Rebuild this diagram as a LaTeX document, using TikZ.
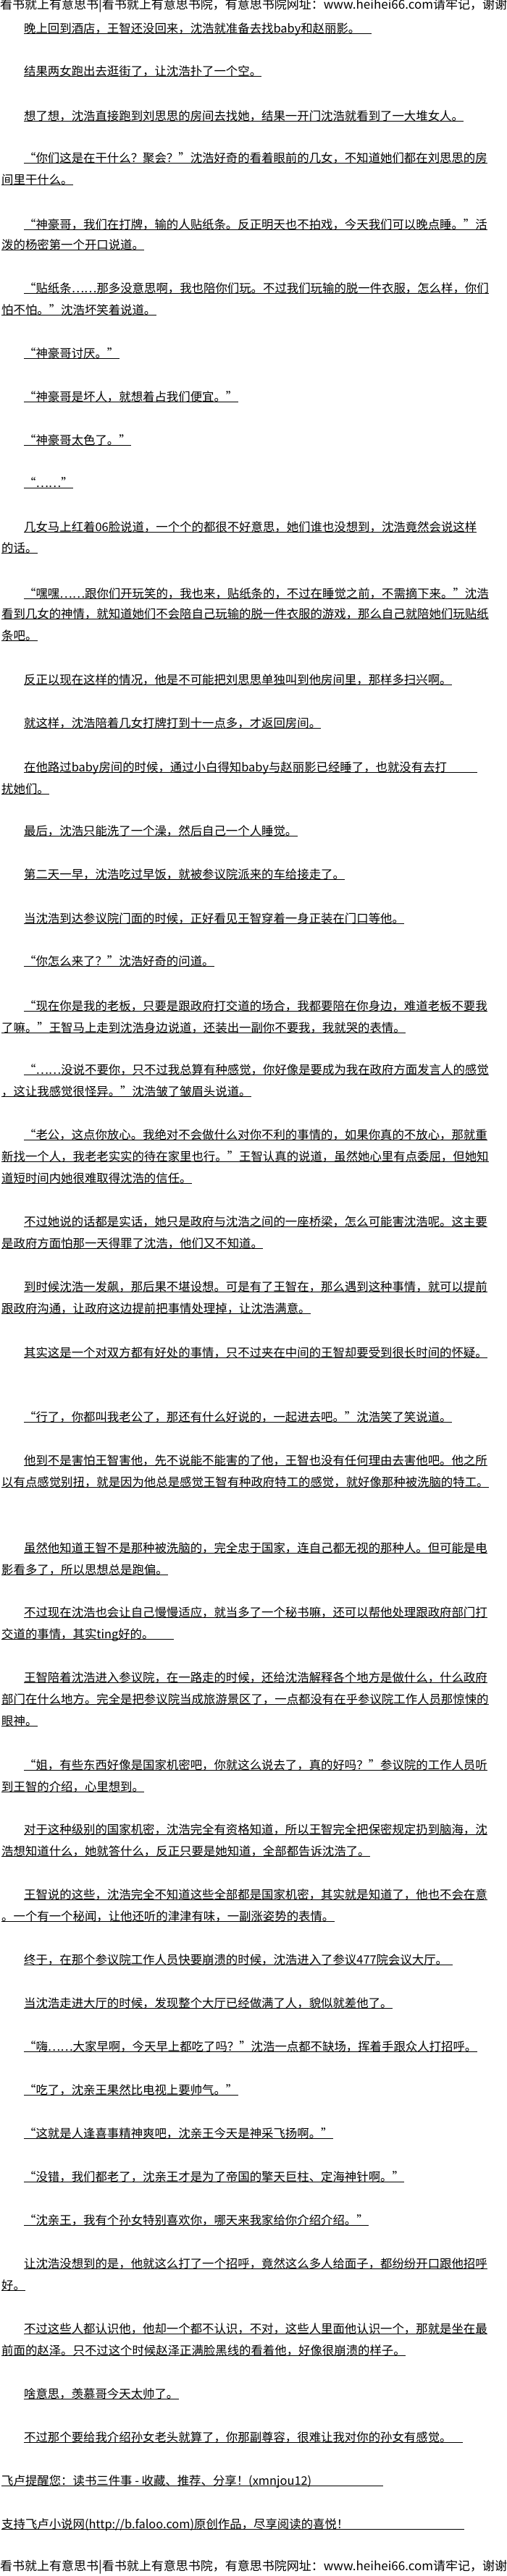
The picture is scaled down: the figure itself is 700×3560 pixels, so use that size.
\documentclass[tikz,border=0pt]{standalone}
\usepackage{fontspec}
\setmainfont{Noto Sans CJK SC}
\tikzset{
	x=1pt, y=-1pt, % one unit is one pixel of the page, y counts down from the top edge
	uline/.style={draw=black, line width=0.8pt}, % the rule under every printed line
	ln/.style={anchor=west, inner sep=0pt, font=\fontsize{16.4pt}{16.4pt}\selectfont,
		text height=13pt, text depth=1pt,
		append after command={([yshift=-7pt]\tikzlastnode.west) edge[uline] ([yshift=-7pt]\tikzlastnode.east)}}, % one line of the text
	head/.style={anchor=west, inner sep=0pt, font=\fontsize{17pt}{17pt}\selectfont}, % site banner, top and bottom
}
\begin{document}
\begin{tikzpicture}
	\fill[white] (0,0) rectangle (700,3560);
	\useasboundingbox (0,0) rectangle (700,3560);
	\node[head] (hd1) at (0,8) {看书就上有意思书|看书就上有意思书院，有意思书院网址：www.heihei66.com请牢记，谢谢};
	\node[ln] (l1) at (33,39) {\makebox[480pt][l]{晚上回到酒店，王智还没回来，沈浩就准备去找baby和赵丽影。}};
	\node[ln] (l2) at (33,98) {结果两女跑出去逛街了，让沈浩扑了一个空。};
	\node[ln] (l3) at (33,160) {想了想，沈浩直接跑到刘思思的房间去找她，结果一开门沈浩就看到了一大堆女人。};
	\node[ln] (l4) at (33,218) {“你们这是在干什么？聚会？”沈浩好奇的看着眼前的几女，不知道她们都在刘思思的房};
	\node[ln] (l5) at (2,248) {间里干什么。};
	\node[ln] (l6) at (33,310) {“神豪哥，我们在打牌，输的人贴纸条。反正明天也不拍戏，今天我们可以晚点睡。”活};
	\node[ln] (l7) at (2,338) {泼的杨密第一个开口说道。};
	\node[ln] (l8) at (33,398) {“贴纸条……那多没意思啊，我也陪你们玩。不过我们玩输的脱一件衣服，怎么样，你们};
	\node[ln] (l9) at (2,428) {怕不怕。”沈浩坏笑着说道。};
	\node[ln] (l10) at (33,488) {“神豪哥讨厌。”};
	\node[ln] (l11) at (33,548) {“神豪哥是坏人，就想着占我们便宜。”};
	\node[ln] (l12) at (33,608) {“神豪哥太色了。”};
	\node[ln] (l13) at (33,667) {“……”};
	\node[ln] (l14) at (33,728) {几女马上红着06脸说道，一个个的都很不好意思，她们谁也没想到，沈浩竟然会说这样};
	\node[ln] (l15) at (2,757) {的话。};
	\node[ln] (l16) at (33,820) {“嘿嘿……跟你们开玩笑的，我也来，贴纸条的，不过在睡觉之前，不需摘下来。”沈浩};
	\node[ln] (l17) at (2,848) {看到几女的神情，就知道她们不会陪自己玩输的脱一件衣服的游戏，那么自己就陪她们玩贴纸};
	\node[ln] (l18) at (2,878) {条吧。};
	\node[ln] (l19) at (33,939) {反正以现在这样的情况，他是不可能把刘思思单独叫到他房间里，那样多扫兴啊。};
	\node[ln] (l20) at (33,999) {就这样，沈浩陪着几女打牌打到十一点多，才返回房间。};
	\node[ln] (l21) at (33,1060) {\makebox[626pt][l]{在他路过baby房间的时候，通过小白得知baby与赵丽影已经睡了，也就没有去打}};
	\node[ln] (l22) at (2,1090) {扰她们。};
	\node[ln] (l23) at (33,1148) {最后，沈浩只能洗了一个澡，然后自己一个人睡觉。};
	\node[ln] (l24) at (33,1208) {第二天一早，沈浩吃过早饭，就被参议院派来的车给接走了。};
	\node[ln] (l25) at (33,1269) {当沈浩到达参议院门面的时候，正好看见王智穿着一身正装在门口等他。};
	\node[ln] (l26) at (33,1328) {“你怎么来了？”沈浩好奇的问道。};
	\node[ln] (l27) at (33,1390) {“现在你是我的老板，只要是跟政府打交道的场合，我都要陪在你身边，难道老板不要我};
	\node[ln] (l28) at (2,1420) {了嘛。”王智马上走到沈浩身边说道，还装出一副你不要我，我就哭的表情。};
	\node[ln] (l29) at (33,1478) {“……没说不要你，只不过我总算有种感觉，你好像是要成为我在政府方面发言人的感觉};
	\node[ln] (l30) at (2,1508) {，这让我感觉很怪异。”沈浩皱了皱眉头说道。};
	\node[ln] (l31) at (33,1568) {“老公，这点你放心。我绝对不会做什么对你不利的事情的，如果你真的不放心，那就重};
	\node[ln] (l32) at (2,1598) {新找一个人，我老老实实的待在家里也行。”王智认真的说道，虽然她心里有点委屈，但她知};
	\node[ln] (l33) at (2,1628) {道短时间内她很难取得沈浩的信任。};
	\node[ln] (l34) at (33,1688) {不过她说的话都是实话，她只是政府与沈浩之间的一座桥梁，怎么可能害沈浩呢。这主要};
	\node[ln] (l35) at (2,1718) {是政府方面怕那一天得罪了沈浩，他们又不知道。};
	\node[ln] (l36) at (33,1778) {到时候沈浩一发飙，那后果不堪设想。可是有了王智在，那么遇到这种事情，就可以提前};
	\node[ln] (l37) at (2,1808) {跟政府沟通，让政府这边提前把事情处理掉，让沈浩满意。};
	\node[ln] (l38) at (33,1869) {其实这是一个对双方都有好处的事情，只不过夹在中间的王智却要受到很长时间的怀疑。};
	\node[ln] (l39) at (33,1958) {“行了，你都叫我老公了，那还有什么好说的，一起进去吧。”沈浩笑了笑说道。};
	\node[ln] (l40) at (33,2018) {他到不是害怕王智害他，先不说能不能害的了他，王智也没有任何理由去害他吧。他之所};
	\node[ln] (l41) at (2,2048) {以有点感觉别扭，就是因为他总是感觉王智有种政府特工的感觉，就好像那种被洗脑的特工。};
	\node[ln] (l42) at (33,2139) {虽然他知道王智不是那种被洗脑的，完全忠于国家，连自己都无视的那种人。但可能是电};
	\node[ln] (l43) at (2,2169) {影看多了，所以思想总是跑偏。};
	\node[ln] (l44) at (33,2228) {不过现在沈浩也会让自己慢慢适应，就当多了一个秘书嘛，还可以帮他处理跟政府部门打};
	\node[ln] (l45) at (2,2258) {\makebox[238pt][l]{交道的事情，其实ting好的。}};
	\node[ln] (l46) at (33,2318) {王智陪着沈浩进入参议院，在一路走的时候，还给沈浩解释各个地方是做什么，什么政府};
	\node[ln] (l47) at (2,2348) {部门在什么地方。完全是把参议院当成旅游景区了，一点都没有在乎参议院工作人员那惊悚的};
	\node[ln] (l48) at (2,2378) {眼神。};
	\node[ln] (l49) at (33,2439) {“姐，有些东西好像是国家机密吧，你就这么说去了，真的好吗？”参议院的工作人员听};
	\node[ln] (l50) at (2,2469) {到王智的介绍，心里想到。};
	\node[ln] (l51) at (33,2528) {对于这种级别的国家机密，沈浩完全有资格知道，所以王智完全把保密规定扔到脑海，沈};
	\node[ln] (l52) at (2,2558) {浩想知道什么，她就答什么，反正只要是她知道，全部都告诉沈浩了。};
	\node[ln] (l53) at (33,2618) {王智说的这些，沈浩完全不知道这些全部都是国家机密，其实就是知道了，他也不会在意};
	\node[ln] (l54) at (2,2648) {。一个有一个秘闻，让他还听的津津有味，一副涨姿势的表情。};
	\node[ln] (l55) at (33,2708) {\makebox[592pt][l]{终于，在那个参议院工作人员快要崩溃的时候，沈浩进入了参议477院会议大厅。}};
	\node[ln] (l56) at (33,2768) {当沈浩走进大厅的时候，发现整个大厅已经做满了人，貌似就差他了。};
	\node[ln] (l57) at (33,2828) {“嗨……大家早啊，今天早上都吃了吗？”沈浩一点都不缺场，挥着手跟众人打招呼。};
	\node[ln] (l58) at (33,2888) {“吃了，沈亲王果然比电视上要帅气。”};
	\node[ln] (l59) at (33,2948) {“这就是人逢喜事精神爽吧，沈亲王今天是神采飞扬啊。”};
	\node[ln] (l60) at (33,3008) {“没错，我们都老了，沈亲王才是为了帝国的擎天巨柱、定海神针啊。”};
	\node[ln] (l61) at (33,3068) {“沈亲王，我有个孙女特别喜欢你，哪天来我家给你介绍介绍。”};
	\node[ln] (l62) at (33,3128) {让沈浩没想到的是，他就这么打了一个招呼，竟然这么多人给面子，都纷纷开口跟他招呼};
	\node[ln] (l63) at (2,3158) {好。};
	\node[ln] (l64) at (33,3218) {不过这些人都认识他，他却一个都不认识，不对，这些人里面他认识一个，那就是坐在最};
	\node[ln] (l65) at (2,3248) {前面的赵泽。只不过这个时候赵泽正满脸黑线的看着他，好像很崩溃的样子。};
	\node[ln] (l66) at (33,3308) {啥意思，羡慕哥今天太帅了。};
	\node[ln] (l67) at (33,3368) {\makebox[606pt][l]{不过那个要给我介绍孙女老头就算了，你那副尊容，很难让我对你的孙女有感觉。}};
	\node[ln] (l68) at (2,3428) {\makebox[527pt][l]{飞卢提醒您：读书三件事 - 收藏、推荐、分享！(xmnjou12)}};
	\node[ln] (l69) at (2,3488) {\makebox[639pt][l]{支持飞卢小说网(http://b.faloo.com)原创作品，尽享阅读的喜悦！}};
	\node[head] (hd2) at (0,3548) {看书就上有意思书|看书就上有意思书院，有意思书院网址：www.heihei66.com请牢记，谢谢};
\end{tikzpicture}
\end{document}
